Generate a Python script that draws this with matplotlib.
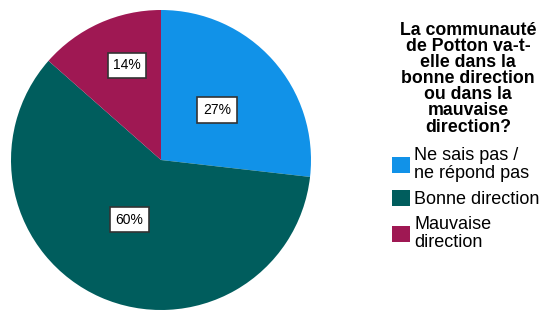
import matplotlib
matplotlib.use("Agg")
import matplotlib.pyplot as plt
import numpy as np

plt.rcParams['font.family'] = ['Liberation Sans', 'DejaVu Sans']

categories = ["Ne sais pas /\nne répond pas", "Bonne direction", "Mauvaise\ndirection"]
values = [26.8, 59.7, 13.5]
pct_labels = ["27%", "60%", "14%"]
colors = ["#1192e8", "#005d5d", "#9f1853"]
label_dist = [0.50, 0.45, 0.67]
label_ang_shift = [0, -4, -4.5]
title = "La communauté\nde Potton va-t-\nelle dans la\nbonne direction\nou dans la\nmauvaise\ndirection?"

fig = plt.figure(figsize=(5.44, 3.12), dpi=100)
ax = fig.add_axes([11/544, 2/312, 300/544, 300/312])
wedges, _ = ax.pie(values, colors=colors, startangle=90, counterclock=False,
                   wedgeprops=dict(linewidth=0))
for w, lab, d, s in zip(wedges, pct_labels, label_dist, label_ang_shift):
    ang = np.deg2rad((w.theta1 + w.theta2) / 2 + s)
    ax.text(d * np.cos(ang), d * np.sin(ang), lab, ha='center', va='center',
            fontsize=10,
            bbox=dict(boxstyle='square,pad=0.4', fc='white', ec='#333333', lw=1.2))
ax.set_xlim(-1, 1)
ax.set_ylim(-1, 1)
ax.set_aspect('equal')

fig.text(468/544, 1 - 22/312, title, ha='center', va='top', fontsize=12.8,
         fontweight='bold', linespacing=0.93)

leg = fig.legend(wedges, categories, loc='upper left',
                 bbox_to_anchor=(392/544, 1 - 147/312), frameon=False,
                 fontsize=13, handlelength=1.0, handleheight=0.95,
                 handletextpad=0.22, labelspacing=0.45, borderpad=0,
                 borderaxespad=0)
for t in leg.get_texts():
    t.set_linespacing(1.08)
fig.savefig("out.png", dpi=100)
